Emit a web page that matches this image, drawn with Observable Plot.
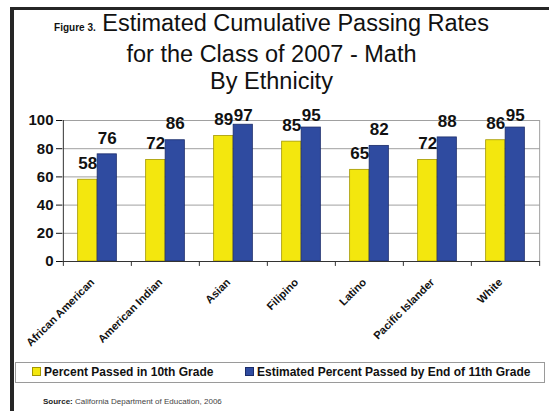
<!DOCTYPE html>
<html>
<head>
<meta charset="utf-8">
<script src="https://cdn.jsdelivr.net/npm/d3@7"></script>
<script src="https://cdn.jsdelivr.net/npm/@observablehq/plot@0.6"></script>
<style>
  html, body { margin: 0; padding: 0; background: #fff; }
  #page {
    position: relative; width: 549px; height: 411px; overflow: hidden;
    font-family: "Liberation Sans", Arial, Helvetica, sans-serif; color: #111;
  }
  .bar-left { position: absolute; left: 10px; top: 7px; width: 4px; height: 404px; background: #262626; }
  .bar-top { position: absolute; left: 10px; top: 7px; width: 539px; height: 3px; background: #262626; }
  #title {
    position: absolute; left: 8px; top: 10px; width: 527px; text-align: center;
    font-size: 23.5px; line-height: 27px; color: #111;
  }
  #title .fig { font-size: 10px; font-weight: bold; }
  #chart { position: absolute; left: 0; top: 100px; }
  #chart g[aria-label^="y-axis"] text { font-size: 15px; font-weight: bold; fill: #111; }
  #chart g[aria-label^="x-axis"] text { font-size: 11px; font-weight: bold; fill: #111; translate: -5px -2px; }
  #legend {
    position: absolute; left: 15px; top: 362px; width: 528px; height: 19px;
    border: 1px solid #9a9a9a; box-sizing: content-box;
    font-size: 12px; font-weight: bold; line-height: 19px; color: #111;
  }
  .item { position: absolute; top: 0; white-space: nowrap; }
  .sw { display: inline-block; width: 7px; height: 7px; margin-right: 3px; vertical-align: 0px; border: 1px solid; }
  #source {
    position: absolute; left: 43px; top: 397px; font-size: 8px; color: #444; white-space: nowrap;
  }
  #source b { color: #222; }
</style>
</head>
<body>
<div id="page">
  <div class="bar-left"></div>
  <div class="bar-top"></div>
  <div id="title"><span class="fig">Figure 3.</span> Estimated Cumulative Passing Rates<br>for the Class of 2007 - Math<br>By Ethnicity</div>
  <div id="chart"></div>
  <div id="legend"></div>
  <div id="source"><b>Source:</b> California Department of Education, 2006</div>
</div>
<script>
// Ethnic groups along the x axis
const categories = ["African American", "American Indian", "Asian", "Filipino", "Latino", "Pacific Islander", "White"];
// Percent passed in 10th grade
const passed10th = [58, 72, 89, 85, 65, 72, 86];
// Estimated percent passed by end of 11th grade
const passed11th = [76, 86, 97, 95, 82, 88, 95];
// Series names and y-axis ticks
const seriesNames = ["Percent Passed in 10th Grade", "Estimated Percent Passed by End of 11th Grade"];
const yTicks = [0, 20, 40, 60, 80, 100];

const colors = {fill: ["#f3e70e", "#2f4ba0"], stroke: ["#a39700", "#1b2c6a"]};

const rows10 = categories.map((c, i) => ({category: c, value: passed10th[i]}));
const rows11 = categories.map((c, i) => ({category: c, value: passed11th[i]}));

const width = 549, marginLeft = 62, marginRight = 9;
const bw = (width - marginLeft - marginRight) / categories.length; // band width per group
const barW = 19.5;

// label position: above the bar, kept inside the top of the plot
const labelY = d => Math.min(d.value + 11.5, 103.5);
const labelStyle = {fontSize: 17, fontWeight: "bold", fill: "#111", lineAnchor: "middle"};

const chart = Plot.plot({
  width,
  height: 255,
  marginLeft,
  marginRight,
  marginTop: 20,
  marginBottom: 94,
  style: {fontFamily: "'Liberation Sans', Arial, sans-serif", background: "transparent", overflow: "visible"},
  x: {domain: categories, padding: 0, tickSize: 0, tickRotate: -45, tickPadding: 21, label: null},
  y: {domain: [0, 100], ticks: yTicks, tickSize: 6, tickPadding: 3, label: null},
  marks: [
    Plot.ruleY(yTicks.filter(t => t > 0), {stroke: "#a0a0a0", strokeWidth: 1}),
    Plot.ruleX([categories[categories.length - 1]], {dx: bw / 2, y1: 0, y2: 100, stroke: "#a0a0a0"}),
    Plot.barY(rows10, {
      x: "category", y: "value", fill: colors.fill[0], stroke: colors.stroke[0], strokeWidth: 0.8,
      insetLeft: bw / 2 - barW, insetRight: bw / 2
    }),
    Plot.barY(rows11, {
      x: "category", y: "value", fill: colors.fill[1], stroke: colors.stroke[1], strokeWidth: 0.8,
      insetLeft: bw / 2, insetRight: bw / 2 - barW
    }),
    Plot.text(rows10, {x: "category", y: labelY, text: "value", dx: -barW / 2, ...labelStyle}),
    Plot.text(rows11, {x: "category", y: labelY, text: "value", dx: barW / 2, ...labelStyle}),
    // axis lines and group-boundary ticks
    Plot.ruleY([0], {stroke: "#333"}),
    Plot.ruleX([categories[0]], {dx: -bw / 2, y1: 0, y2: 100, stroke: "#333"}),
    Plot.ruleX(categories, {dx: -bw / 2, y1: 0, y2: -3.5, stroke: "#333"}),
    Plot.ruleX([categories[categories.length - 1]], {dx: bw / 2, y1: 0, y2: -3.5, stroke: "#333"})
  ]
});
document.getElementById("chart").appendChild(chart);

// legend
const legend = document.getElementById("legend");
const lefts = [16, 229];
seriesNames.forEach((name, i) => {
  const item = document.createElement("span");
  item.className = "item";
  item.style.left = lefts[i] + "px";
  const sw = document.createElement("span");
  sw.className = "sw";
  sw.style.background = colors.fill[i];
  sw.style.borderColor = colors.stroke[i];
  item.appendChild(sw);
  item.appendChild(document.createTextNode(name));
  legend.appendChild(item);
});
</script>
</body>
</html>
